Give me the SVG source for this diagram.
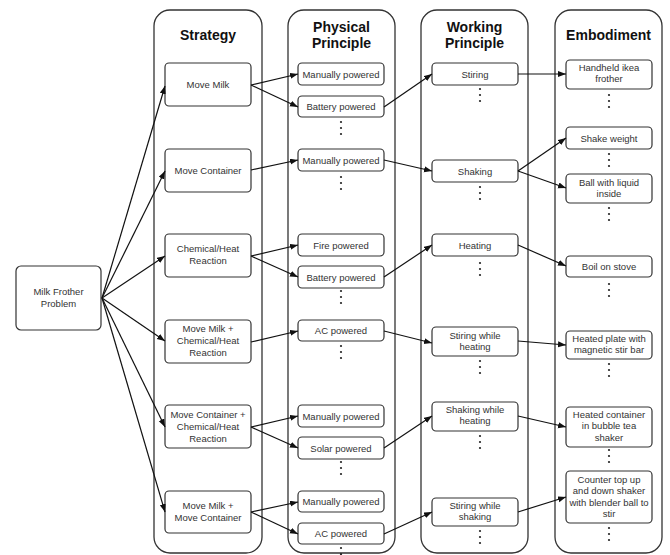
<svg xmlns="http://www.w3.org/2000/svg" width="670" height="555" viewBox="0 0 670 555">
<defs>
<marker id="ah" markerWidth="9" markerHeight="7" refX="8" refY="3" orient="auto" markerUnits="userSpaceOnUse">
<path d="M0,0 L8,3 L0,6 z" fill="#111"/>
</marker>
<style>
.col{fill:#fff;stroke:#333;stroke-width:1.3}
.box{fill:#fff;stroke:#333;stroke-width:1.2}
.hd{font-family:"Liberation Sans",Arial,sans-serif;font-size:14px;font-weight:bold;fill:#111;text-anchor:middle}
.t{font-family:"Liberation Sans",Arial,sans-serif;font-size:9.5px;fill:#333;text-anchor:middle}
.c line{stroke:#111;stroke-width:1.2;marker-end:url(#ah)}
.d circle{fill:#222}
</style>
</defs>
<rect width="670" height="555" fill="#fff"/>
<g id="columns">
<rect class="col" x="154" y="10" width="108" height="543" rx="16"/>
<rect class="col" x="288" y="10" width="107" height="543" rx="16"/>
<rect class="col" x="421" y="10" width="107" height="543" rx="16"/>
<rect class="col" x="555" y="10" width="107" height="543" rx="16"/>
<text class="hd" x="208" y="40">Strategy</text>
<text class="hd" x="341.5" y="32">Physical</text>
<text class="hd" x="341.5" y="48">Principle</text>
<text class="hd" x="474.5" y="32">Working</text>
<text class="hd" x="474.5" y="48">Principle</text>
<text class="hd" x="608.5" y="40">Embodiment</text>
</g>
<g id="problem"><rect class="box" x="16" y="266" width="85" height="64" rx="5"/><text class="t" x="58.5" y="295">Milk Frother</text><text class="t" x="58.5" y="307">Problem</text></g>
<g id="s1"><rect class="box" x="165" y="63" width="86" height="43" rx="4"/><text class="t" x="208" y="88">Move Milk</text></g>
<g id="s2"><rect class="box" x="165" y="149" width="86" height="43" rx="4"/><text class="t" x="208" y="173.5">Move Container</text></g>
<g id="s3"><rect class="box" x="165" y="234" width="86" height="43" rx="4"/><text class="t" x="208" y="251.5">Chemical/Heat</text><text class="t" x="208" y="263.5">Reaction</text></g>
<g id="s4"><rect class="box" x="165" y="320" width="86" height="43" rx="4"/><text class="t" x="208" y="331.5">Move Milk +</text><text class="t" x="208" y="343.5">Chemical/Heat</text><text class="t" x="208" y="355.5">Reaction</text></g>
<g id="s5"><rect class="box" x="165" y="405" width="86" height="43" rx="4"/><text class="t" x="208" y="417.5">Move Container +</text><text class="t" x="208" y="429.5">Chemical/Heat</text><text class="t" x="208" y="441.5">Reaction</text></g>
<g id="s6"><rect class="box" x="165" y="491" width="86" height="42" rx="4"/><text class="t" x="208" y="508.5">Move Milk +</text><text class="t" x="208" y="520.5">Move Container</text></g>
<g id="p1"><rect class="box" x="298" y="63" width="86" height="22" rx="4"/><text class="t" x="341" y="77.5">Manually powered</text></g>
<g id="p2"><rect class="box" x="298" y="96" width="86" height="21" rx="4"/><text class="t" x="341" y="110">Battery powered</text></g>
<g id="p3"><rect class="box" x="298" y="149" width="86" height="22" rx="4"/><text class="t" x="341" y="163.5">Manually powered</text></g>
<g id="p4"><rect class="box" x="298" y="234" width="86" height="22" rx="4"/><text class="t" x="341" y="248.5">Fire powered</text></g>
<g id="p5"><rect class="box" x="298" y="266" width="86" height="22" rx="4"/><text class="t" x="341" y="280.5">Battery powered</text></g>
<g id="p6"><rect class="box" x="298" y="320" width="86" height="21" rx="4"/><text class="t" x="341" y="334">AC powered</text></g>
<g id="p7"><rect class="box" x="298" y="405" width="86" height="22" rx="4"/><text class="t" x="341" y="419.5">Manually powered</text></g>
<g id="p8"><rect class="box" x="298" y="437" width="86" height="22" rx="4"/><text class="t" x="341" y="451.5">Solar powered</text></g>
<g id="p9"><rect class="box" x="298" y="491" width="86" height="21" rx="4"/><text class="t" x="341" y="505">Manually powered</text></g>
<g id="p10"><rect class="box" x="298" y="523" width="86" height="21" rx="4"/><text class="t" x="341" y="537">AC powered</text></g>
<g id="w1"><rect class="box" x="432" y="63" width="86" height="22" rx="4"/><text class="t" x="475" y="77.5">Stiring</text></g>
<g id="w2"><rect class="box" x="432" y="160" width="86" height="22" rx="4"/><text class="t" x="475" y="174.5">Shaking</text></g>
<g id="w3"><rect class="box" x="432" y="234" width="86" height="22" rx="4"/><text class="t" x="475" y="248.5">Heating</text></g>
<g id="w4"><rect class="box" x="432" y="327" width="86" height="29" rx="4"/><text class="t" x="475" y="338.5">Stiring while</text><text class="t" x="475" y="350">heating</text></g>
<g id="w5"><rect class="box" x="432" y="402" width="86" height="29" rx="4"/><text class="t" x="475" y="412.5">Shaking while</text><text class="t" x="475" y="424">heating</text></g>
<g id="w6"><rect class="box" x="432" y="498" width="86" height="28" rx="4"/><text class="t" x="475" y="508.5">Stiring while</text><text class="t" x="475" y="520">shaking</text></g>
<g id="e1"><rect class="box" x="566" y="60" width="86" height="29" rx="4"/><text class="t" x="609" y="70.5">Handheld ikea</text><text class="t" x="609" y="82">frother</text></g>
<g id="e2"><rect class="box" x="566" y="127" width="86" height="22" rx="4"/><text class="t" x="609" y="141.5">Shake weight</text></g>
<g id="e3"><rect class="box" x="566" y="174" width="86" height="29" rx="4"/><text class="t" x="609" y="185.5">Ball with liquid</text><text class="t" x="609" y="197">inside</text></g>
<g id="e4"><rect class="box" x="566" y="256" width="86" height="21" rx="4"/><text class="t" x="609" y="270">Boil on stove</text></g>
<g id="e5"><rect class="box" x="566" y="331" width="86" height="28" rx="4"/><text class="t" x="609" y="341.5">Heated plate with</text><text class="t" x="609" y="353">magnetic stir bar</text></g>
<g id="e6"><rect class="box" x="566" y="407" width="86" height="40" rx="4"/><text class="t" x="609" y="417.5">Heated container</text><text class="t" x="609" y="429">in bubble tea</text><text class="t" x="609" y="440.5">shaker</text></g>
<g id="e7"><rect class="box" x="566" y="471" width="86" height="52" rx="4"/><text class="t" x="609" y="482.5">Counter top up</text><text class="t" x="609" y="494">and down shaker</text><text class="t" x="609" y="505.5">with blender ball to</text><text class="t" x="609" y="517">stir</text></g>
<g id="ellipses" class="d">
<circle cx="341" cy="122" r="1.1"/><circle cx="341" cy="128" r="1.1"/><circle cx="341" cy="134" r="1.1"/>
<circle cx="341" cy="177" r="1.1"/><circle cx="341" cy="183" r="1.1"/><circle cx="341" cy="189" r="1.1"/>
<circle cx="341" cy="291" r="1.1"/><circle cx="341" cy="297" r="1.1"/><circle cx="341" cy="303" r="1.1"/>
<circle cx="341" cy="346" r="1.1"/><circle cx="341" cy="352" r="1.1"/><circle cx="341" cy="358" r="1.1"/>
<circle cx="341" cy="462" r="1.1"/><circle cx="341" cy="468" r="1.1"/><circle cx="341" cy="474" r="1.1"/>
<circle cx="341" cy="548" r="1.1"/><circle cx="341" cy="554" r="1.1"/>
<circle cx="480" cy="89" r="1.1"/><circle cx="480" cy="95" r="1.1"/><circle cx="480" cy="101" r="1.1"/>
<circle cx="480" cy="187" r="1.1"/><circle cx="480" cy="193" r="1.1"/><circle cx="480" cy="199" r="1.1"/>
<circle cx="480" cy="263" r="1.1"/><circle cx="480" cy="269" r="1.1"/><circle cx="480" cy="275" r="1.1"/>
<circle cx="480" cy="361" r="1.1"/><circle cx="480" cy="367" r="1.1"/><circle cx="480" cy="373" r="1.1"/>
<circle cx="480" cy="436" r="1.1"/><circle cx="480" cy="442" r="1.1"/><circle cx="480" cy="448" r="1.1"/>
<circle cx="480" cy="531" r="1.1"/><circle cx="480" cy="537" r="1.1"/><circle cx="480" cy="543" r="1.1"/>
<circle cx="609" cy="95" r="1.1"/><circle cx="609" cy="101" r="1.1"/><circle cx="609" cy="107" r="1.1"/>
<circle cx="609" cy="154" r="1.1"/><circle cx="609" cy="160" r="1.1"/><circle cx="609" cy="166" r="1.1"/>
<circle cx="609" cy="208" r="1.1"/><circle cx="609" cy="214" r="1.1"/><circle cx="609" cy="220" r="1.1"/>
<circle cx="609" cy="284" r="1.1"/><circle cx="609" cy="290" r="1.1"/><circle cx="609" cy="296" r="1.1"/>
<circle cx="609" cy="364" r="1.1"/><circle cx="609" cy="370" r="1.1"/><circle cx="609" cy="376" r="1.1"/>
<circle cx="609" cy="450" r="1.1"/><circle cx="609" cy="456" r="1.1"/><circle cx="609" cy="462" r="1.1"/>
<circle cx="609" cy="528" r="1.1"/><circle cx="609" cy="534" r="1.1"/><circle cx="609" cy="540" r="1.1"/>
</g>
<g id="connectors" class="c">
<line x1="102" y1="298" x2="165" y2="86"/>
<line x1="102" y1="298" x2="165" y2="171"/>
<line x1="102" y1="298" x2="165" y2="256"/>
<line x1="102" y1="298" x2="165" y2="341"/>
<line x1="102" y1="298" x2="165" y2="427"/>
<line x1="102" y1="298" x2="165" y2="512"/>
<line x1="251" y1="85" x2="298" y2="74"/>
<line x1="251" y1="85" x2="298" y2="107"/>
<line x1="251" y1="170" x2="298" y2="160"/>
<line x1="251" y1="256" x2="298" y2="245"/>
<line x1="251" y1="256" x2="298" y2="277"/>
<line x1="251" y1="342" x2="298" y2="331"/>
<line x1="251" y1="427" x2="298" y2="416"/>
<line x1="251" y1="427" x2="298" y2="448"/>
<line x1="251" y1="512" x2="298" y2="502"/>
<line x1="251" y1="512" x2="298" y2="534"/>
<line x1="384" y1="107" x2="432" y2="74"/>
<line x1="384" y1="160" x2="432" y2="171"/>
<line x1="384" y1="277" x2="432" y2="245"/>
<line x1="384" y1="331" x2="432" y2="343"/>
<line x1="384" y1="448" x2="432" y2="416"/>
<line x1="384" y1="534" x2="432" y2="512"/>
<line x1="518" y1="74" x2="566" y2="74"/>
<line x1="518" y1="171" x2="566" y2="138"/>
<line x1="518" y1="171" x2="566" y2="188"/>
<line x1="518" y1="245" x2="566" y2="266"/>
<line x1="518" y1="341" x2="566" y2="345"/>
<line x1="518" y1="416" x2="566" y2="427"/>
<line x1="518" y1="512" x2="566" y2="497"/>
</g>
</svg>
